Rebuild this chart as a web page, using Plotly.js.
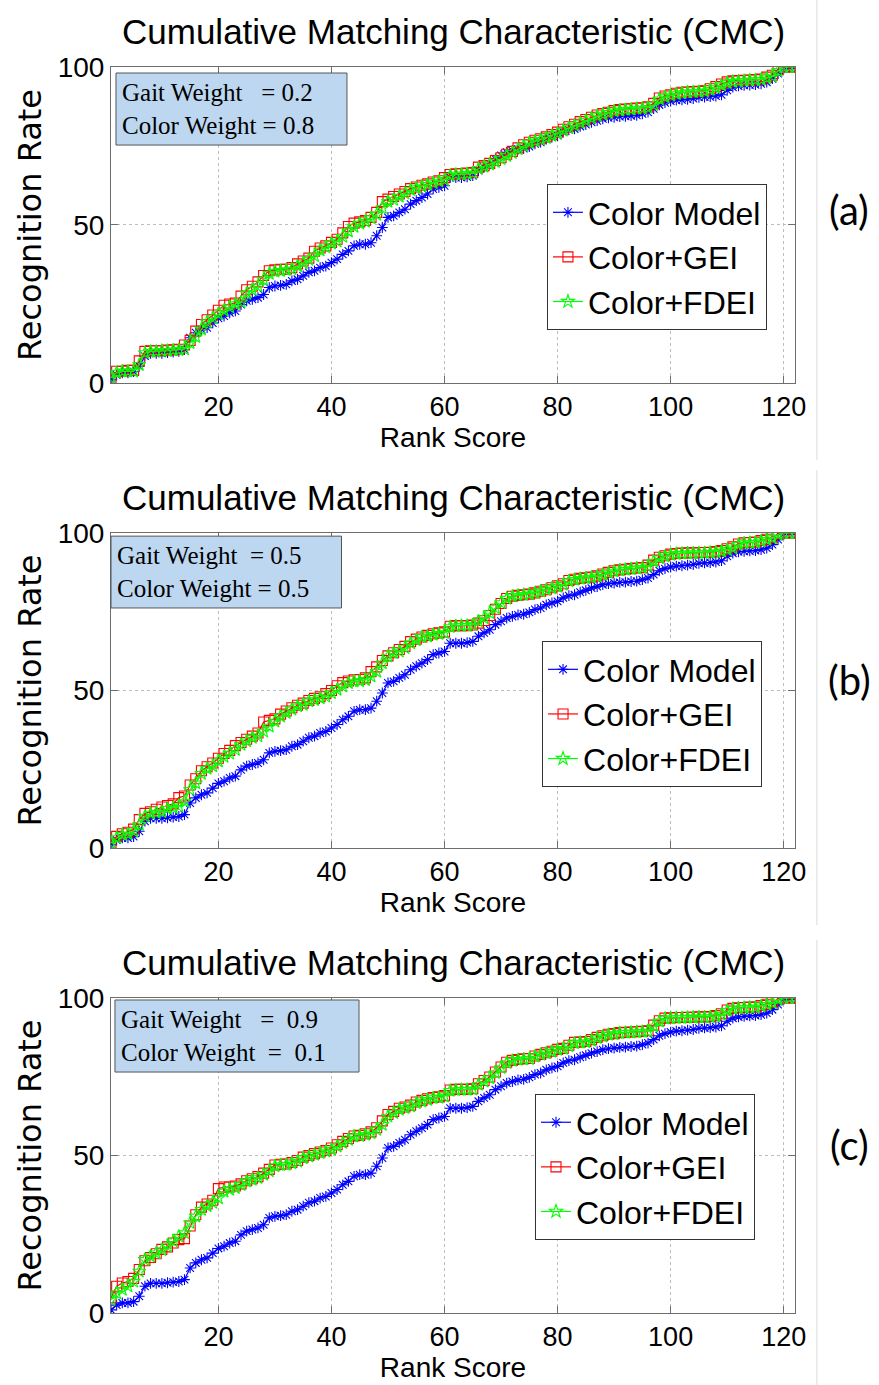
<!DOCTYPE html>
<html>
<head>
<meta charset="utf-8">
<script src="https://cdn.plot.ly/plotly-3.0.1.min.js"></script>
<style>
  html, body { margin: 0; padding: 0; background: #ffffff; }
  #cmc { width: 879px; height: 1385px; }
</style>
</head>
<body>
<div id="cmc"></div>
<script>
// Recognition rate (%) at each rank, 1..122

// Colour-only baseline (identical in every weighting)
const colorModel = [
  1.0, 2.5, 3.2, 3.2, 3.6, 5.3, 8.5, 9.4, 9.4, 9.4,
  9.6, 9.8, 10.0, 10.6, 14.3, 15.9, 16.9, 17.5, 19.0, 20.5,
  21.2, 22.2, 22.8, 24.8, 26.0, 26.5, 27.0, 28.0, 30.2, 30.7,
  30.9, 31.2, 32.3, 32.8, 33.9, 35.0, 35.5, 36.5, 37.0, 38.1,
  39.2, 40.7, 41.8, 43.4, 43.9, 43.9, 44.4, 46.6, 49.2, 52.4,
  52.9, 54.0, 55.0, 56.6, 57.7, 58.7, 59.8, 61.4, 61.9, 62.4,
  65.0, 65.0, 65.0, 65.2, 65.6, 67.2, 68.3, 69.3, 70.9, 72.0,
  73.0, 73.5, 74.0, 74.2, 74.8, 75.7, 76.2, 77.2, 77.8, 78.3,
  79.4, 80.1, 80.4, 81.2, 81.8, 82.5, 83.0, 83.6, 83.9, 84.1,
  84.3, 84.4, 84.6, 84.7, 85.2, 85.7, 86.8, 88.0, 88.7, 89.2,
  89.5, 89.6, 89.8, 90.0, 90.4, 90.5, 90.6, 90.8, 91.2, 92.6,
  93.6, 94.0, 94.2, 94.3, 94.4, 94.7, 95.2, 96.3, 97.9, 99.5,
  100, 100
];

// Gait weight 0.2 / colour weight 0.8
const gei02 = [
  1.6, 3.7, 3.7, 4.0, 4.0, 7.0, 10.0, 10.2, 10.2, 10.2,
  10.4, 10.5, 10.7, 12.0, 13.5, 16.4, 18.5, 20.0, 21.5, 23.0,
  24.6, 25.0, 25.3, 27.5, 29.5, 30.6, 32.0, 34.0, 35.5, 35.8,
  36.0, 36.0, 36.5, 37.7, 38.6, 39.5, 41.7, 42.7, 43.4, 44.5,
  45.5, 47.5, 49.5, 50.6, 51.0, 51.4, 52.4, 54.0, 57.4, 58.2,
  59.0, 59.8, 60.6, 61.5, 62.0, 62.6, 63.0, 63.6, 64.0, 65.0,
  66.0, 66.2, 66.2, 66.4, 66.6, 68.3, 68.8, 69.5, 70.4, 71.3,
  72.4, 73.3, 74.4, 75.4, 76.2, 76.8, 77.3, 77.9, 78.6, 79.4,
  80.3, 81.1, 81.9, 82.7, 83.4, 84.1, 84.8, 85.3, 85.7, 86.2,
  86.5, 86.7, 86.8, 87.0, 87.1, 87.4, 88.5, 90.2, 90.8, 91.2,
  91.7, 92.0, 92.1, 92.2, 92.3, 92.5, 93.1, 93.8, 94.6, 95.3,
  95.6, 95.7, 95.8, 95.9, 96.0, 96.2, 96.8, 97.4, 99.2, 100,
  100, 100
];
const fdei02 = [
  1.6, 3.3, 3.7, 3.7, 3.7, 5.8, 9.5, 10.0, 10.0, 10.2,
  10.2, 10.4, 10.5, 10.7, 12.7, 14.6, 17.0, 19.3, 20.5, 21.8,
  23.0, 24.0, 25.0, 25.6, 28.3, 29.5, 30.6, 32.7, 34.6, 35.3,
  35.5, 35.8, 36.0, 37.0, 38.0, 39.0, 40.2, 42.0, 43.0, 44.2,
  44.8, 46.3, 48.0, 49.5, 50.5, 51.1, 52.2, 53.3, 55.4, 57.4,
  58.0, 59.0, 60.0, 61.1, 61.7, 62.2, 62.8, 63.3, 63.8, 64.3,
  65.6, 66.0, 66.0, 66.2, 66.4, 67.8, 68.5, 69.2, 70.0, 70.9,
  71.9, 72.8, 74.0, 75.0, 76.0, 76.5, 77.0, 77.6, 78.3, 79.0,
  79.9, 80.7, 81.5, 82.3, 83.0, 83.8, 84.5, 85.0, 85.5, 86.0,
  86.3, 86.5, 86.6, 86.8, 86.9, 87.1, 88.0, 89.8, 90.5, 91.0,
  91.5, 91.8, 92.0, 92.1, 92.2, 92.3, 92.8, 93.4, 94.2, 95.0,
  95.4, 95.5, 95.7, 95.8, 95.9, 96.0, 96.5, 97.0, 98.8, 100,
  100, 100
];

// Gait weight 0.5 / colour weight 0.5
const gei05 = [
  1.6, 3.7, 4.5, 5.0, 6.0, 9.0, 11.0, 11.5, 12.3, 13.0,
  13.5, 14.0, 16.0, 16.5, 20.0, 22.0, 24.5, 25.8, 27.0, 28.5,
  30.0, 31.0, 32.5, 33.5, 34.5, 35.5, 36.5, 40.0, 40.5, 41.0,
  42.5, 43.5, 44.5, 45.3, 46.0, 46.8, 47.5, 48.0, 49.0, 50.0,
  51.5, 52.5, 53.0, 53.4, 53.5, 54.0, 56.0, 57.5, 59.5, 61.0,
  62.0, 63.0, 64.0, 65.5, 66.3, 67.0, 67.5, 68.0, 68.3, 68.6,
  70.4, 70.6, 70.6, 70.6, 70.8, 71.4, 72.2, 73.8, 75.8, 77.6,
  79.2, 79.9, 80.2, 80.4, 80.6, 81.0, 81.5, 82.0, 82.6, 83.2,
  83.9, 84.9, 85.3, 85.6, 85.8, 86.0, 86.4, 87.0, 87.5, 88.0,
  88.3, 88.5, 88.7, 88.9, 89.0, 89.8, 91.4, 92.3, 92.8, 93.3,
  93.5, 93.6, 93.7, 93.7, 93.8, 93.8, 93.9, 94.1, 94.4, 95.0,
  95.6, 96.5, 96.9, 97.0, 97.1, 97.6, 98.0, 98.6, 99.7, 100,
  100, 100
];
const fdei05 = [
  1.6, 3.2, 4.2, 4.4, 5.3, 7.4, 10.0, 11.0, 11.2, 11.5,
  12.5, 12.8, 13.2, 14.8, 18.5, 20.6, 23.6, 25.2, 26.0, 27.5,
  29.0, 30.0, 31.2, 32.8, 33.9, 35.0, 35.5, 37.0, 38.6, 40.2,
  41.8, 42.9, 44.0, 45.0, 45.5, 46.6, 47.0, 47.6, 48.1, 49.2,
  50.3, 51.3, 52.4, 52.9, 53.0, 53.4, 54.5, 56.0, 58.7, 60.8,
  61.9, 62.4, 63.5, 65.0, 66.0, 67.0, 67.2, 67.7, 68.0, 68.3,
  70.2, 70.5, 70.6, 70.6, 70.8, 72.0, 73.0, 74.6, 76.2, 77.8,
  79.2, 79.9, 80.2, 80.4, 80.6, 81.0, 81.5, 82.0, 82.5, 83.0,
  83.6, 84.7, 85.2, 85.5, 85.7, 85.9, 86.2, 86.8, 87.3, 87.8,
  88.2, 88.4, 88.6, 88.8, 88.9, 89.4, 91.0, 92.0, 92.6, 93.1,
  93.4, 93.5, 93.6, 93.6, 93.7, 93.7, 93.8, 93.9, 94.2, 94.7,
  95.2, 96.3, 96.8, 96.9, 97.0, 97.4, 97.9, 98.4, 99.5, 100,
  100, 100
];

// Gait weight 0.9 / colour weight 0.1
const gei09 = [
  4.8, 8.5, 9.5, 10.0, 11.0, 13.8, 16.6, 17.6, 18.8, 20.2,
  21.0, 22.2, 23.3, 23.6, 27.6, 31.2, 33.6, 34.6, 35.8, 39.5,
  40.0, 40.0, 40.3, 41.0, 42.0, 42.6, 43.3, 44.4, 45.6, 47.0,
  47.2, 47.3, 47.8, 48.4, 49.5, 50.0, 50.6, 51.1, 51.6, 52.4,
  53.4, 54.5, 55.4, 56.2, 56.4, 56.9, 57.5, 58.8, 61.0, 63.0,
  64.0, 65.0, 65.4, 66.0, 67.0, 67.5, 68.0, 68.4, 68.6, 69.0,
  70.8, 71.0, 71.0, 71.0, 71.2, 72.8, 73.8, 74.9, 76.5, 78.1,
  79.6, 80.2, 80.5, 80.7, 80.8, 81.6, 82.1, 82.6, 83.1, 83.7,
  84.0, 85.0, 85.9, 86.0, 86.2, 86.8, 87.5, 88.0, 88.5, 88.7,
  89.0, 89.1, 89.2, 89.3, 89.4, 89.6, 91.4, 92.8, 93.6, 93.7,
  93.8, 93.8, 93.9, 93.9, 94.0, 94.0, 94.1, 94.4, 95.0, 96.2,
  96.7, 96.9, 97.0, 97.1, 97.1, 97.6, 98.0, 98.6, 99.7, 100,
  100, 100
];
const fdei09 = [
  4.2, 6.3, 7.4, 8.5, 10.0, 13.2, 16.9, 18.0, 19.0, 20.0,
  21.2, 22.8, 24.3, 25.4, 28.6, 30.7, 32.8, 33.9, 35.0, 36.5,
  38.6, 39.2, 39.7, 40.7, 41.8, 42.3, 42.9, 43.9, 45.0, 46.6,
  47.0, 47.1, 47.6, 48.1, 49.2, 49.7, 50.3, 50.8, 51.3, 51.9,
  52.9, 54.0, 55.0, 56.1, 56.2, 56.6, 57.1, 58.2, 59.8, 62.4,
  63.5, 64.6, 65.1, 65.6, 66.7, 67.2, 67.7, 68.3, 68.4, 68.8,
  70.6, 70.8, 70.9, 70.9, 71.0, 72.5, 73.5, 74.6, 76.2, 77.8,
  79.4, 80.1, 80.4, 80.6, 80.7, 81.5, 82.0, 82.5, 83.0, 83.6,
  83.9, 84.7, 85.7, 85.9, 86.0, 86.5, 87.3, 87.8, 88.4, 88.6,
  88.9, 89.0, 89.1, 89.2, 89.3, 89.4, 91.0, 92.6, 93.5, 93.6,
  93.7, 93.7, 93.8, 93.8, 93.9, 93.9, 94.0, 94.2, 94.7, 96.0,
  96.6, 96.8, 96.9, 97.0, 97.0, 97.4, 97.9, 98.4, 99.5, 100,
  100, 100
];

const seriesNames = ['Color Model', 'Color+GEI', 'Color+FDEI'];
const panelTitle = 'Cumulative Matching Characteristic (CMC)';
const panelTags = ['(a)', '(b)', '(c)'];
const weightLines = [
  ['Gait Weight\u00A0\u00A0\u00A0= 0.2', 'Color Weight = 0.8'],
  ['Gait Weight\u00A0\u00A0= 0.5', 'Color Weight = 0.5'],
  ['Gait Weight\u00A0\u00A0\u00A0=\u00A0\u00A00.9', 'Color Weight\u00A0\u00A0=\u00A0\u00A00.1']
];
const panelSeries = [
  [colorModel, gei02, fdei02],
  [colorModel, gei05, fdei05],
  [colorModel, gei09, fdei09]
];
const xTicks = [20, 40, 60, 80, 100, 120];
const yTicks = [0, 50, 100];

const rank = colorModel.map((_, i) => i + 1);

// Styling
const SANS = '"Liberation Sans", Arial, sans-serif';
const SERIF = '"Liberation Serif", "Times New Roman", serif';
const styles = [
  { color: '#0000ff', symbol: 'asterisk-open', size: 9 },
  { color: '#ff0000', symbol: 'square-open', size: 10 },
  { color: '#00ff00', symbol: 'star-open', size: 10 }
];

// Panel placement: y domains (paper), legend anchors, weight boxes
const yDomains = [[0.7464, 1.0], [0.3732, 0.6260], [0.0, 0.2528]];
const legendPos = [
  { x: 0.959, y: 0.9061 },
  { x: 0.9518, y: 0.5393 },
  { x: 0.9415, y: 0.1758 }
];
const boxPos = [
  { x0: 0.0073, x1: 0.345, y0: 0.753, y1: 0.981 },
  { x0: 0.0, x1: 0.337, y0: 0.762, y1: 0.990 },
  { x0: 0.0058, x1: 0.3626, y0: 0.765, y1: 0.9937 }
];
const tagY = [0.885, 0.508, 0.1348];
const edgeSpans = [[1.0538, 0.6846], [0.6766, 0.3114], [0.2994, -0.0578]];

const traces = [];
const layout = {
  width: 879,
  height: 1385,
  margin: { l: 111, r: 84, t: 67, b: 72 },
  paper_bgcolor: '#ffffff',
  plot_bgcolor: '#ffffff',
  showlegend: true,
  hovermode: false,
  annotations: [],
  shapes: []
};

panelSeries.forEach((series, p) => {
  const sfx = p === 0 ? '' : String(p + 1);
  const xa = 'x' + sfx, ya = 'y' + sfx;
  const legendId = 'legend' + sfx;

  series.forEach((vals, s) => {
    traces.push({
      type: 'scatter',
      mode: 'lines+markers',
      x: rank,
      y: vals,
      xaxis: xa,
      yaxis: ya,
      name: seriesNames[s],
      legend: legendId,
      line: { color: styles[s].color, width: 1.2 },
      marker: {
        symbol: styles[s].symbol,
        size: styles[s].size,
        color: styles[s].color,
        line: { color: styles[s].color, width: 1.1 }
      }
    });
  });

  layout['xaxis' + sfx] = {
    anchor: ya,
    domain: [0, 1],
    range: [1, 122],
    tickvals: xTicks,
    ticktext: xTicks.map(String),
    ticks: 'inside',
    ticklen: 7,
    tickcolor: '#6e6e6e',
    showline: true,
    linecolor: '#6e6e6e',
    linewidth: 1,
    mirror: 'ticks',
    showgrid: true,
    gridcolor: '#bdbdbd',
    griddash: 'dot',
    gridwidth: 1,
    zeroline: false,
    tickfont: { family: SANS, size: 27, color: '#000000' },
    title: { text: 'Rank Score', font: { family: SANS, size: 28, color: '#000000' }, standoff: 0 },
    automargin: false
  };
  layout['yaxis' + sfx] = {
    anchor: xa,
    domain: yDomains[p],
    range: [0, 100],
    tickvals: yTicks,
    ticktext: yTicks.map(String),
    ticks: 'inside',
    ticklen: 7,
    tickcolor: '#6e6e6e',
    showline: true,
    linecolor: '#6e6e6e',
    linewidth: 1,
    mirror: 'ticks',
    showgrid: true,
    gridcolor: '#bdbdbd',
    griddash: 'dot',
    gridwidth: 1,
    zeroline: false,
    tickfont: { family: SANS, size: 28, color: '#000000' },
    title: { text: 'Recognition Rate', font: { family: '"DejaVu Sans", sans-serif', size: 32, color: '#000000' }, standoff: 6 },
    automargin: false
  };

  layout[legendId] = {
    x: legendPos[p].x,
    y: legendPos[p].y,
    xanchor: 'right',
    yanchor: 'top',
    bgcolor: '#ffffff',
    bordercolor: '#333333',
    borderwidth: 1,
    itemwidth: 30,
    tracegroupgap: 0,
    font: { family: SANS, size: 32, color: '#000000' }
  };

  // panel heading
  layout.annotations.push({
    text: panelTitle,
    xref: xa + ' domain', yref: ya + ' domain',
    x: 0.5, y: 1, xanchor: 'center', yanchor: 'bottom',
    yshift: 14, showarrow: false,
    font: { family: SANS, size: 35, color: '#000000' }
  });

  // weight box
  const b = boxPos[p];
  layout.shapes.push({
    type: 'rect', xref: xa + ' domain', yref: ya + ' domain',
    x0: b.x0, x1: b.x1, y0: b.y0, y1: b.y1,
    fillcolor: '#bdd7f1', line: { color: '#555555', width: 1 }, layer: 'above'
  });
  layout.annotations.push({
    text: weightLines[p].join('<br>'),
    xref: xa + ' domain', yref: ya + ' domain',
    x: b.x0 + 0.006, y: (b.y0 + b.y1) / 2,
    xanchor: 'left', yanchor: 'middle', align: 'left',
    showarrow: false,
    font: { family: SERIF, size: 25, color: '#000000' }
  });

  // panel tag
  layout.annotations.push({
    text: panelTags[p],
    xref: 'paper', yref: 'paper',
    x: 1.079, y: tagY[p], xanchor: 'center', yanchor: 'middle',
    showarrow: false,
    font: { family: 'Lato, "Open Sans", sans-serif', size: 40, color: '#000000' }
  });

  // faint right edge of each figure tile
  layout.shapes.push({
    type: 'line', xref: 'paper', yref: 'paper',
    x0: 1.032, x1: 1.032, y0: edgeSpans[p][0], y1: edgeSpans[p][1],
    line: { color: '#dcdcdc', width: 1 }
  });
});

Plotly.newPlot('cmc', traces, layout, { displayModeBar: false, staticPlot: true });
</script>
</body>
</html>
